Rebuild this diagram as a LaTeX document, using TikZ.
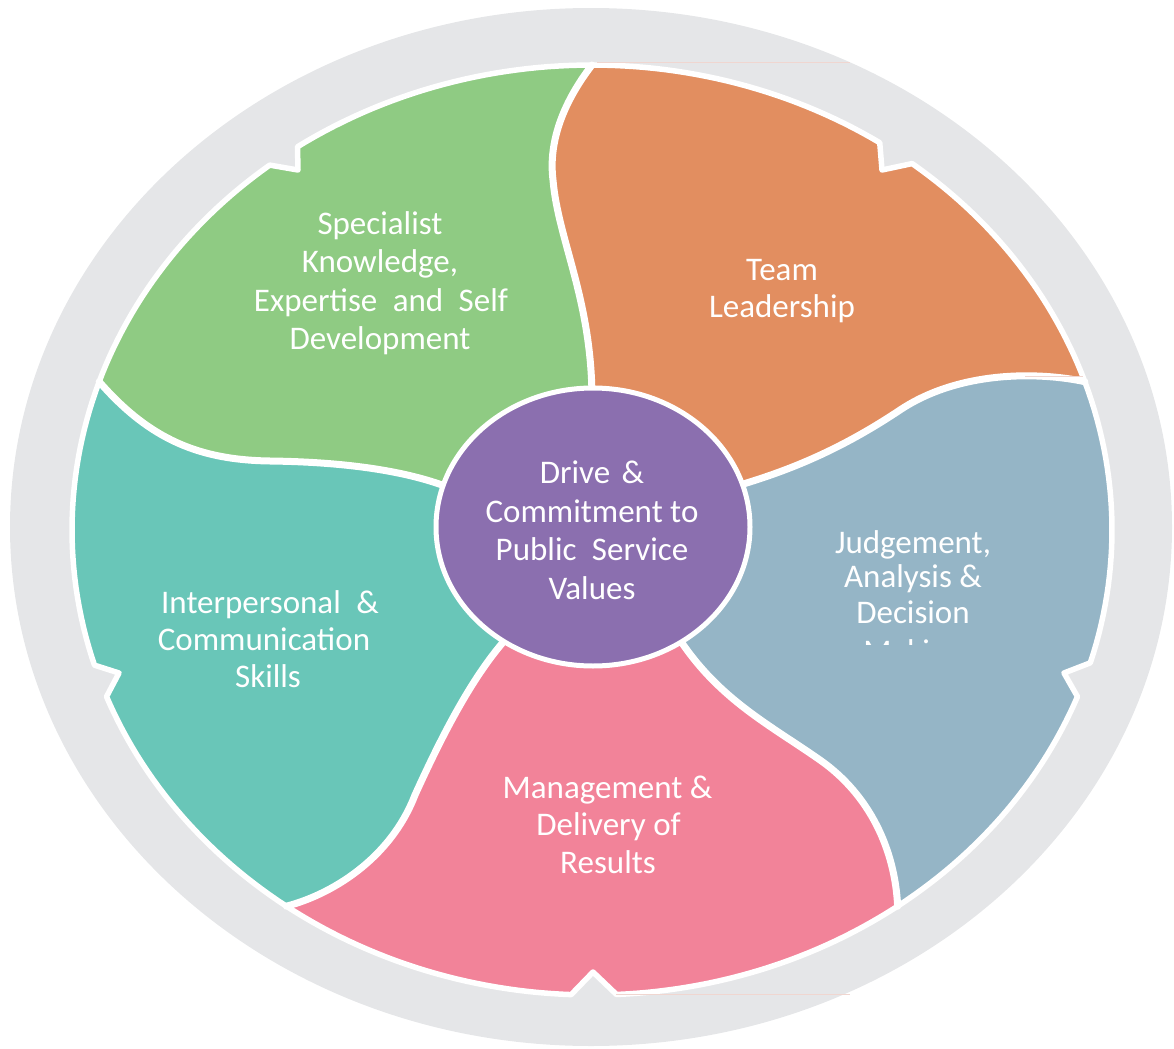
\documentclass[tikz,border=0pt]{standalone}
\usepackage{fontspec}
\setmainfont{Carlito}
\usetikzlibrary{shapes.geometric}
\definecolor{ringgray}{HTML}{E5E6E8}
\definecolor{pgreen}{HTML}{8FCB83}
\definecolor{porange}{HTML}{E28E60}
\definecolor{pblue}{HTML}{95B5C6}
\definecolor{ppink}{HTML}{F28399}
\definecolor{pteal}{HTML}{69C6B8}
\definecolor{ppurple}{HTML}{8B6FAF}
\definecolor{faintline}{HTML}{F0D6D0}
\begin{document}
\begin{tikzpicture}[x=0.5pt,y=-0.5pt,
  petal/.style={draw=white, line width=2.75pt, line join=round},
  seam/.style={draw=white, line width=3.5pt, line cap=round},
  lbl/.style={text=white, font=\fontsize{16.5}{19}\selectfont, anchor=base, inner sep=0pt},
  faint/.style={draw=faintline, line width=0.4pt}]
\useasboundingbox (0,0) rectangle (1174,1049);
% grey ring
\fill[ringgray] (591,527) ellipse [x radius=290.5pt, y radius=259.5pt];
% key points
\coordinate (T) at (592,65);
\coordinate (R) at ({592+520*cos(18.6)},{530-465*sin(18.6)});
\coordinate (BR) at ({592+520*cos(-54)},{530-465*sin(-54)});
\coordinate (BL) at ({592+520*cos(-126)},{530-465*sin(-126)});
\coordinate (L) at ({592+520*cos(161.4)},{530-465*sin(161.4)});
\coordinate (C) at (593,527);
\coordinate (i1) at (592,400);
\coordinate (i2) at (740,485);
\coordinate (i3) at (680,640);
\coordinate (i4) at (505,640);
\coordinate (i5) at (450,488);
% green petal
\filldraw[petal, fill=pgreen]
  plot[domain=90:124.5,samples=30] ({592+520*cos(\x)},{530-465*sin(\x)})
  -- (298,170)
  -- plot[domain=128.3:161.4,samples=30] ({592+520*cos(\x)},{530-465*sin(\x)})
  .. controls (150,440) and (200,460) .. (270,461)
  .. controls (350,462) and (410,472) .. (i5) -- (C) -- (i1)
  .. controls (592,300) and (558,240) .. (553,180)
  .. controls (548,140) and (565,100) .. (T) -- cycle;
% orange petal
\filldraw[petal, fill=porange]
  plot[domain=90:56.4,samples=30] ({592+520*cos(\x)},{530-465*sin(\x)})
  -- (882,170)
  -- plot[domain=52:18.6,samples=30] ({592+520*cos(\x)},{530-465*sin(\x)})
  .. controls (1040,372) and (960,370) .. (900,410)
  .. controls (840,450) and (790,470) .. (i2) -- (C) -- (i1)
  .. controls (592,300) and (558,240) .. (553,180)
  .. controls (548,140) and (565,100) .. (T) -- cycle;
% blue petal
\filldraw[petal, fill=pblue]
  plot[domain=18.6:-16.6,samples=30] ({592+520*cos(\x)},{530-465*sin(\x)})
  -- (1064,673)
  -- plot[domain=-21:-54,samples=30] ({592+520*cos(\x)},{530-465*sin(\x)})
  .. controls (895,850) and (870,795) .. (820,760)
  .. controls (770,725) and (720,700) .. (i3) -- (C) -- (i2)
  .. controls (790,470) and (840,450) .. (900,410)
  .. controls (960,370) and (1040,372) .. (R) -- cycle;
% pink petal
\filldraw[petal, fill=ppink]
  plot[domain=-54:-87.3,samples=30] ({592+520*cos(\x)},{530-465*sin(\x)})
  -- (593,972)
  -- plot[domain=-92.3:-126,samples=30] ({592+520*cos(\x)},{530-465*sin(\x)})
  .. controls (330,895) and (390,860) .. (415,795)
  .. controls (440,740) and (470,680) .. (i4) -- (C) -- (i3)
  .. controls (720,700) and (770,725) .. (820,760)
  .. controls (870,795) and (895,850) .. (BR) -- cycle;
% teal petal
\filldraw[petal, fill=pteal]
  plot[domain=-126:-159,samples=30] ({592+520*cos(\x)},{530-465*sin(\x)})
  -- (119,673)
  -- plot[domain=-163.1:-198.6,samples=30] ({592+520*cos(\x)},{530-465*sin(\x)})
  .. controls (150,440) and (200,460) .. (270,461)
  .. controls (350,462) and (410,472) .. (i5) -- (C) -- (i4)
  .. controls (470,680) and (440,740) .. (415,795)
  .. controls (390,860) and (330,895) .. (BL) -- cycle;
% seams between petals
\draw[seam] (i1) .. controls (592,300) and (558,240) .. (553,180)
  .. controls (548,140) and (565,100) .. (T);
\draw[seam] (R) .. controls (1040,372) and (960,370) .. (900,410)
  .. controls (840,450) and (790,470) .. (i2);
\draw[seam] (i3) .. controls (720,700) and (770,725) .. (820,760)
  .. controls (870,795) and (895,850) .. (BR);
\draw[seam] (i4) .. controls (470,680) and (440,740) .. (415,795)
  .. controls (390,860) and (330,895) .. (BL);
\draw[seam] (L) .. controls (150,440) and (200,460) .. (270,461)
  .. controls (350,462) and (410,472) .. (i5);
% faint artefact lines
\draw[faint] (597,62) -- (850,62);
\draw[faint] (616,994) -- (850,994);
\draw[faint] (1025,376) -- (1083,376);
% centre
\node[ellipse, fill=ppurple, draw=white, line width=2.5pt,
  minimum width=157pt, minimum height=139pt, inner sep=0pt] (core) at (593,527) {};
% labels
\node[lbl] (g1) at (380,234) {Specialist};
\node[lbl] (g2) at (380,272) {Knowledge,};
\node[lbl] (g3) at (381,311) {Expertise\hspace{4pt} and\hspace{4pt} Self};
\node[lbl] (g4) at (380,349) {Development};
\node[lbl] (o1) at (782,280) {Team};
\node[lbl] (o2) at (782,317) {Leadership};
\node[lbl] (c1) at (592,483) {Drive\hspace{2pt} \&};
\node[lbl] (c2) at (592,522) {Commitment to};
\node[lbl] (c3) at (592,560) {Public\hspace{4pt} Service};
\node[lbl] (c4) at (592,599) {Values};
\node[lbl] (b1) at (913,553) {Judgement,};
\node[lbl] (b2) at (913,587) {Analysis \&};
\node[lbl] (b3) at (913,623) {Decision};
\begin{scope}
  \clip (820,600) rectangle (1010,644);
  \node[lbl] (b4) at (913,662) {Making};
\end{scope}
\node[lbl] (t1) at (270,613) {Interpersonal\hspace{4pt} \&};
\node[lbl] (t2) at (264,650) {Communication};
\node[lbl] (t3) at (268,687) {Skills};
\node[lbl] (p1) at (607.5,798) {Management \&};
\node[lbl] (p2) at (608.5,835) {Delivery of};
\node[lbl] (p3) at (608,873) {Results};
\end{tikzpicture}
\end{document}
